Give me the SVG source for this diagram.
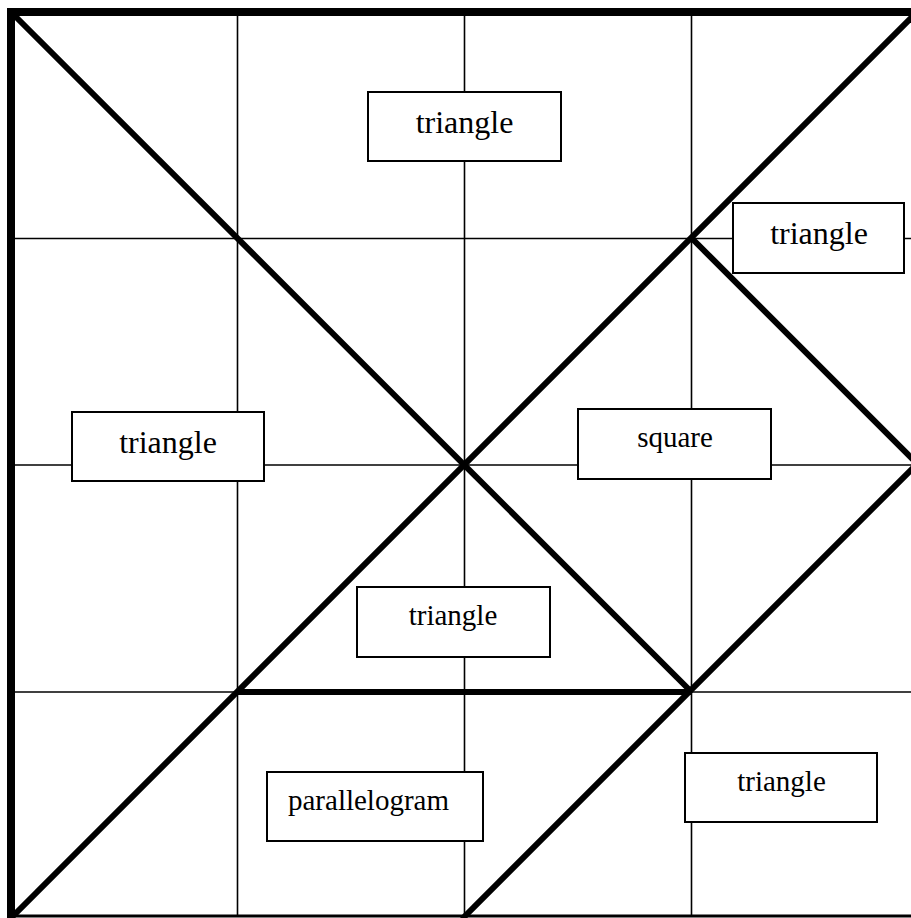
<svg xmlns="http://www.w3.org/2000/svg" width="911" height="918" viewBox="0 0 911 918">
<style>
.grid{stroke:#000;stroke-width:1.6;fill:none}
.thick{stroke:#000;stroke-width:6;fill:none;stroke-linecap:butt}
.box{fill:#fff;stroke:#000;stroke-width:2}
text{font-family:'Liberation Serif','DejaVu Serif',serif;text-anchor:middle;fill:#000}
</style>
<rect x="0" y="0" width="911" height="918" fill="#fff"/>
<g id="connectors">
<g id="grid">
<line class="grid" x1="237.5" y1="12" x2="237.5" y2="916"/>
<line class="grid" x1="464.5" y1="12" x2="464.5" y2="916"/>
<line class="grid" x1="691.5" y1="12" x2="691.5" y2="916"/>
<line class="grid" x1="11" y1="238.5" x2="911" y2="238.5"/>
<line class="grid" x1="11" y1="465" x2="911" y2="465"/>
<line class="grid" x1="11" y1="692" x2="911" y2="692"/>
</g>
<g id="cuts">
<line class="thick" x1="11" y1="12" x2="691.5" y2="692"/>
<line class="thick" x1="9" y1="920" x2="915" y2="14"/>
<line class="thick" x1="691.5" y1="238" x2="915" y2="461.5"/>
<line class="thick" x1="915" y1="466" x2="462" y2="919"/>
<line class="thick" x1="237.5" y1="692" x2="691.5" y2="692"/>
</g>
<g id="border">
<line stroke="#000" stroke-width="8" x1="7" y1="12" x2="911" y2="12"/>
<line stroke="#000" stroke-width="8" x1="11" y1="8" x2="11" y2="918"/>
<line stroke="#000" stroke-width="3" x1="11" y1="916" x2="911" y2="916"/>
</g>
</g>
<g id="n-top">
<rect class="box" x="368" y="92" width="193" height="69"/>
<text x="464.5" y="133" font-size="32">triangle</text>
</g>
<g id="n-right-top">
<rect class="box" x="733" y="203" width="171" height="70"/>
<text x="819" y="244" font-size="32">triangle</text>
</g>
<g id="n-left">
<rect class="box" x="72" y="412" width="192" height="69"/>
<text x="168" y="453" font-size="32">triangle</text>
</g>
<g id="n-square">
<rect class="box" x="578" y="409" width="193" height="70"/>
<text x="675" y="447" font-size="29">square</text>
</g>
<g id="n-mid">
<rect class="box" x="357" y="587" width="193" height="70"/>
<text x="453" y="625" font-size="29">triangle</text>
</g>
<g id="n-para">
<rect class="box" x="267" y="772" width="216" height="69"/>
<text x="368.5" y="810" font-size="29">parallelogram</text>
</g>
<g id="n-br">
<rect class="box" x="685" y="753" width="192" height="69"/>
<text x="781.5" y="791" font-size="29">triangle</text>
</g>
</svg>
